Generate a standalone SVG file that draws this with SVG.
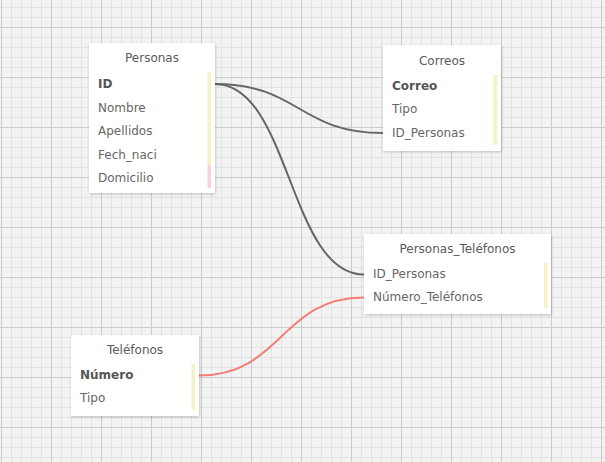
<svg xmlns="http://www.w3.org/2000/svg" width="605" height="462" viewBox="0 0 605 462">
<style>
.box{fill:#fff;filter:url(#sh)}
.title{font-family:"DejaVu Sans",sans-serif;font-size:12px;fill:#5a5a5a;text-anchor:middle}
.f{font-family:"DejaVu Sans",sans-serif;font-size:12px;fill:#666}
.k{font-weight:bold;fill:#555}
.y{fill:#f5f2c4}
.p{fill:#f9d4d2}
.c{fill:none;stroke:#666;stroke-width:2}
.r{fill:none;stroke:#f47d75;stroke-width:2}
</style>
<defs>
<pattern id="minor" x="1" y="7" width="10" height="10" patternUnits="userSpaceOnUse">
<path d="M0.5 0V10M0 0.5H10" stroke="#e2e2e2" stroke-width="1" fill="none"/>
</pattern>
<pattern id="major" x="1" y="27" width="50" height="50" patternUnits="userSpaceOnUse">
<path d="M0.5 0V50M0 0.5H50" stroke="#cacaca" stroke-width="1" fill="none"/>
</pattern>
<filter id="sh" x="-10%" y="-10%" width="120%" height="130%">
<feDropShadow dx="0.5" dy="1" stdDeviation="1.5" flood-color="#000" flood-opacity="0.22"/>
</filter>
</defs>
<rect width="605" height="462" fill="#f3f3f3"/>
<rect width="605" height="462" fill="url(#minor)"/>
<rect width="605" height="462" fill="url(#major)"/>
<g id="connectors">
<path class="c" d="M215 84C299 84 299 133 383 133"/>
<path class="c" d="M215 84C290 84 289 274.5 364 274.5"/>
<path class="r" d="M199 375.5C282 375.5 281 297.5 364 297.5"/>
</g>
<g id="personas">
<rect class="box" x="89" y="43" width="126" height="150"/>
<text class="title" x="152" y="62">Personas</text>
<text class="f k" x="98" y="88">ID</text>
<text class="f" x="98" y="111.5">Nombre</text>
<text class="f" x="98" y="135">Apellidos</text>
<text class="f" x="98" y="158.5">Fech_naci</text>
<text class="f" x="98" y="182">Domicilio</text>
<rect class="y" x="207.5" y="72" width="3.5" height="93"/>
<rect class="p" x="207.5" y="165" width="3.5" height="23"/>
</g>
<g id="correos">
<rect class="box" x="383" y="45" width="118" height="106"/>
<text class="title" x="442" y="64.5">Correos</text>
<text class="f k" x="392" y="90">Correo</text>
<text class="f" x="392" y="113.3">Tipo</text>
<text class="f" x="392" y="136.7">ID_Personas</text>
<rect class="y" x="493.5" y="74.7" width="3.5" height="70"/>
</g>
<g id="personas_telefonos">
<rect class="box" x="364" y="234" width="187" height="80"/>
<text class="title" x="457.5" y="252.5">Personas_Teléfonos</text>
<text class="f" x="373" y="278">ID_Personas</text>
<text class="f" x="373" y="301">Número_Teléfonos</text>
<rect class="y" x="544" y="262.7" width="3.5" height="45.3"/>
</g>
<g id="telefonos">
<rect class="box" x="71" y="335" width="128" height="81"/>
<text class="title" x="135" y="353.5">Teléfonos</text>
<text class="f k" x="80" y="379">Número</text>
<text class="f" x="80" y="402">Tipo</text>
<rect class="y" x="191.5" y="364" width="3.5" height="46"/>
</g>
</svg>
